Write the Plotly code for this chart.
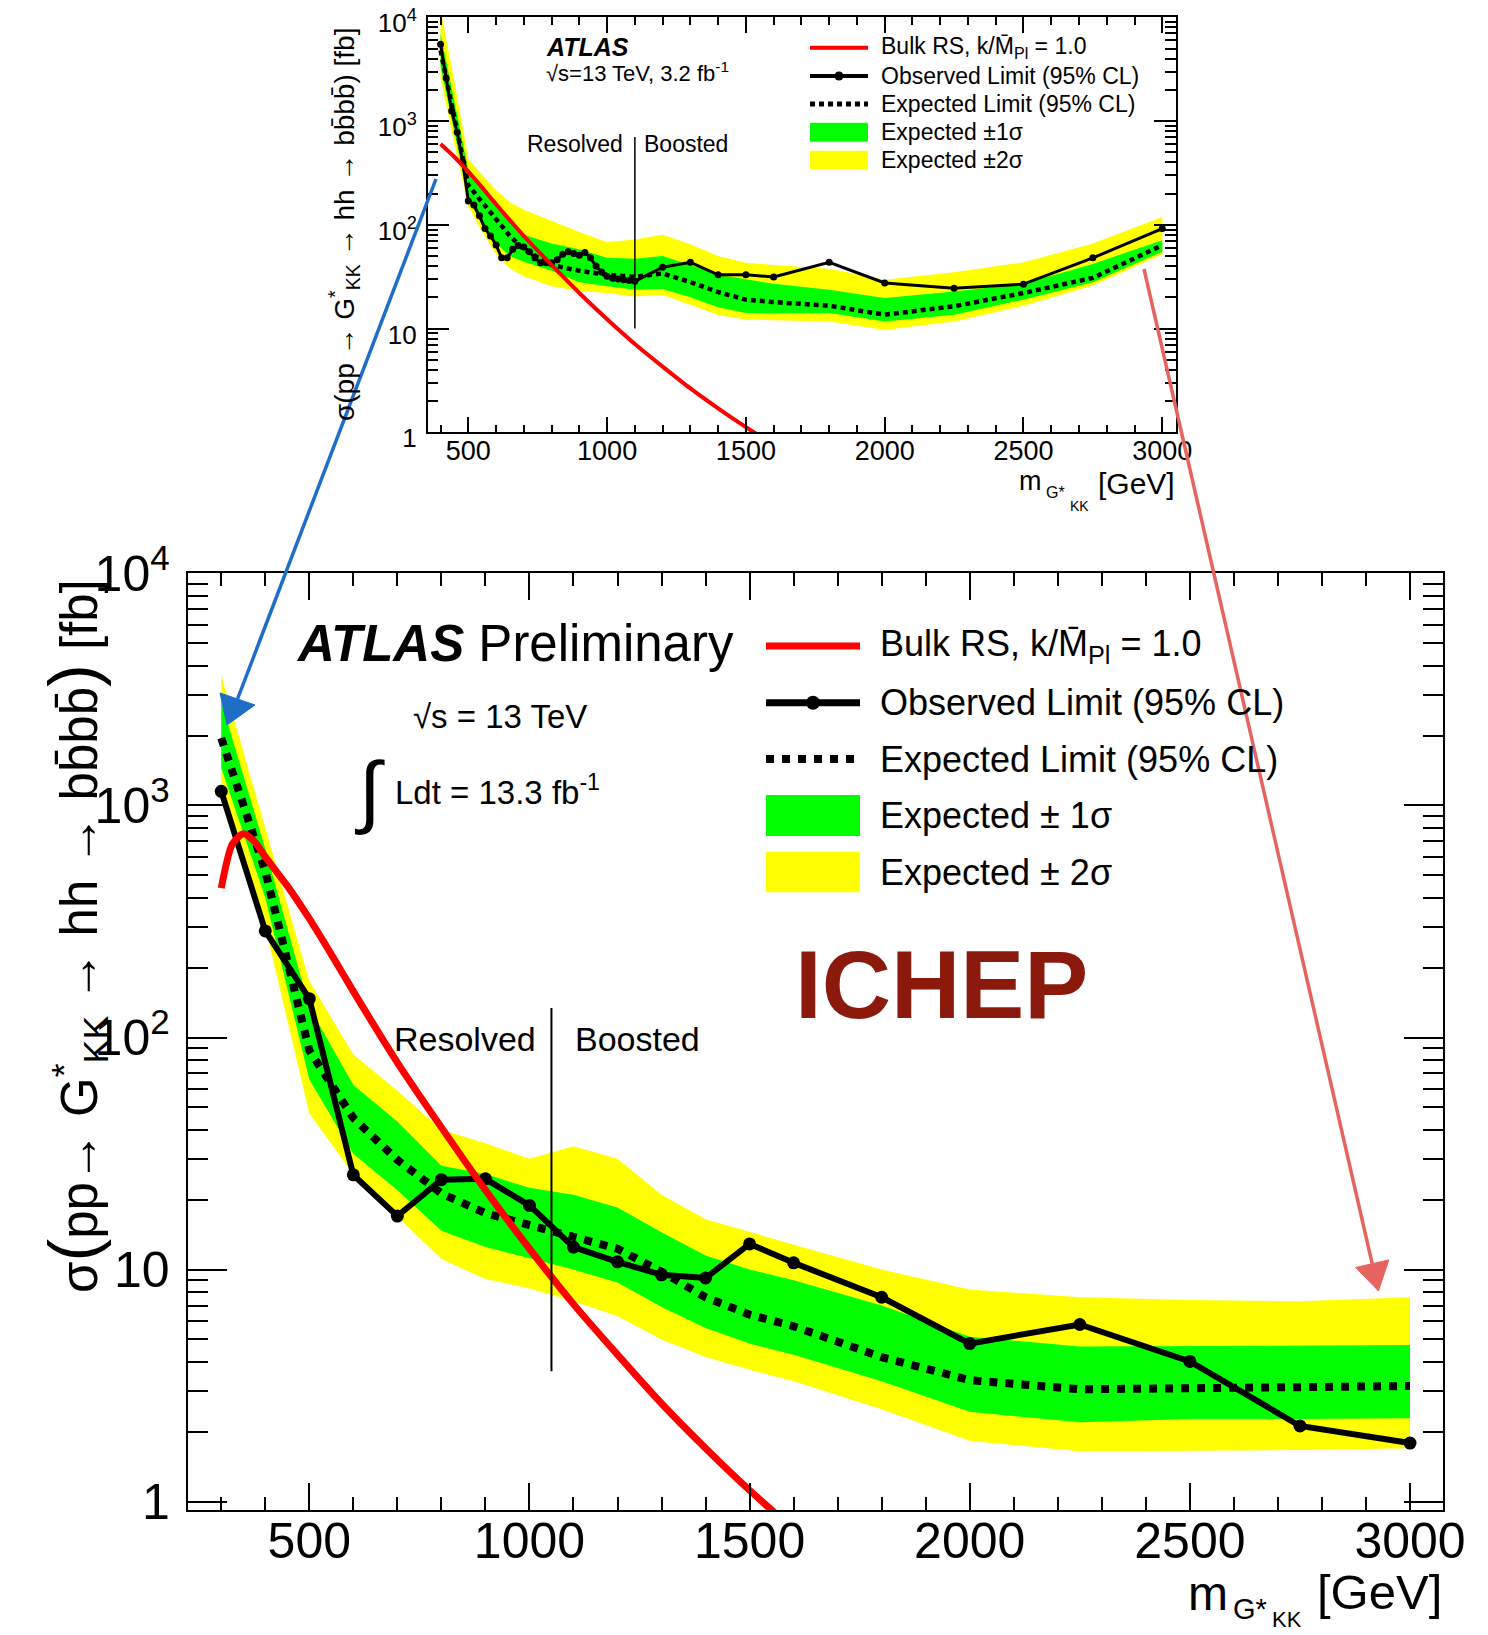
import plotly.graph_objects as go

W, H = 1488, 1635
FONT = "Liberation Sans, Arial, Helvetica, sans-serif"

# ---------------- main panel (13.3 fb-1) ----------------
mass = [300, 400, 500, 600, 700, 800, 900, 1000, 1100, 1200,
        1300, 1400, 1500, 1600, 1800, 2000, 2250, 2500, 2750, 3000]
obs_limit = [1150, 288, 147, 25.6, 17.0, 24.4, 24.6, 18.9, 12.5, 10.8,
             9.5, 9.2, 12.9, 10.7, 7.6, 4.8, 5.8, 4.02, 2.12, 1.79]
exp_limit = [1950, 520, 88, 45, 29.7, 21.3, 17.5, 15.5, 14.0, 12.3,
             9.8, 7.6, 6.4, 5.7, 4.2, 3.34, 3.05, 3.08, 3.08, 3.15]
exp_plus1 = [2800, 650, 135, 62.5, 43.5, 28, 25.8, 22.5, 21, 18.5,
             14.5, 11.5, 10, 9, 7.0, 5.14, 4.66, 4.69, 4.70, 4.73]
exp_minus1 = [1450, 400, 66, 31.6, 22, 14.7, 12.5, 11.2, 10, 8.8,
              6.9, 5.6, 4.8, 4.3, 3.3, 2.44, 2.2, 2.27, 2.27, 2.29]
exp_plus2 = [3650, 800, 175, 84.5, 59, 40, 35, 30, 34, 30,
             21, 16.5, 14.5, 12.8, 10, 8.2, 7.6, 7.4, 7.3, 7.6]
exp_minus2 = [1150, 300, 47, 25.8, 16.9, 11.1, 9.1, 8.3, 7.3, 6.3,
              5.0, 4.2, 3.7, 3.3, 2.5, 1.83, 1.65, 1.66, 1.67, 1.70]

# Bulk RS k/MPl = 1.0 prediction
theory_mass = [300, 325, 350, 375, 400, 450, 500, 550, 600, 700, 800, 900,
               1000, 1100, 1200, 1300, 1400, 1500, 1600]
theory_xs = [440, 680, 755, 700, 600, 450, 325, 228, 158, 78, 41, 22,
             12.3, 7.1, 4.3, 2.65, 1.7, 1.12, 0.76]

split_main = 1050
split_main_span = [3.65, 134]

# ---------------- inset (3.2 fb-1) ----------------
inset_obs_mass = [400, 420, 440, 460, 480, 500, 520, 540, 560, 580, 600, 620,
                  640, 660, 680, 700, 720, 740, 760, 780, 800, 820, 840, 860,
                  880, 900, 920, 940, 960, 980, 1000, 1020, 1040, 1060, 1080,
                  1100, 1200, 1300, 1400, 1500, 1600, 1800, 2000, 2250, 2500,
                  2750, 3000]
inset_obs = [5500, 2600, 1250, 780, 400, 170, 155, 122, 92, 78, 64, 48,
             48, 58, 63, 61, 55, 48, 43, 43, 43, 46, 52, 55,
             53, 51, 54, 48, 40, 35, 32, 30.5, 30, 29.5, 29,
             28.5, 39, 43.5, 33, 33, 31.4, 43.5, 27.5, 24.5, 26.8,
             48, 92]

inset_band_mass = [400, 450, 500, 550, 600, 650, 700, 800, 900, 1000, 1100,
                   1200, 1300, 1400, 1500, 1600, 1800, 2000, 2250, 2500, 2750, 3000]
inset_exp = [4800, 1100, 240, 165, 115, 78, 58, 41, 36, 33, 31.5,
             34, 28, 22.5, 19, 18, 16.6, 13.6, 16.4, 22, 30.8, 63.5]
inset_plus1 = [7000, 1600, 340, 230, 170, 110, 80, 66, 58, 48, 47,
               50, 41, 33, 29.6, 27, 23.7, 19.7, 22.8, 27, 42, 71]
inset_minus1 = [3400, 780, 176, 100, 66, 50, 44, 36, 28, 25.5, 23.7,
                24, 20, 16, 14.1, 14, 14.1, 11.7, 13.6, 19, 28, 55]
inset_plus2 = [12000, 2400, 430, 300, 215, 165, 140, 110, 85, 68, 72,
               80, 65, 50, 43, 41, 37.6, 29.6, 34.8, 43.5, 66, 119]
inset_minus2 = [2600, 600, 150, 85, 52, 38, 32, 25.5, 23, 22, 20.4,
                21, 17, 13.5, 12.2, 12, 11.7, 9.7, 11.7, 16.6, 26, 52]

split_inset = 1100
split_inset_span = [10, 700]

GREEN = "#00ff00"
YELLOW = "#ffff00"
RED = "#ff0000"


def px(x):
    return x / W


def py(y):
    return 1 - y / H


def band(xs, lo, hi, color, xa, ya):
    return go.Scatter(x=list(xs) + list(xs)[::-1], y=list(hi) + list(lo)[::-1],
                      fill="toself", fillcolor=color, mode="lines",
                      line=dict(width=0, color=color), hoverinfo="skip",
                      xaxis=xa, yaxis=ya)


fig = go.Figure()

# main panel traces
fig.add_trace(band(mass, exp_minus2, exp_plus2, YELLOW, "x", "y"))
fig.add_trace(band(mass, exp_minus1, exp_plus1, GREEN, "x", "y"))
fig.add_trace(go.Scatter(x=mass, y=exp_limit, mode="lines",
                         line=dict(color="black", width=8, dash="8px,8px"),
                         xaxis="x", yaxis="y"))
fig.add_trace(go.Scatter(x=mass, y=obs_limit, mode="lines+markers",
                         line=dict(color="black", width=6),
                         marker=dict(size=13, color="black"),
                         xaxis="x", yaxis="y"))
fig.add_trace(go.Scatter(x=theory_mass, y=theory_xs, mode="lines",
                         line=dict(color=RED, width=7, shape="spline", smoothing=0.7),
                         xaxis="x", yaxis="y"))
fig.add_trace(go.Scatter(x=[split_main, split_main], y=split_main_span, mode="lines",
                         line=dict(color="black", width=2), xaxis="x", yaxis="y"))

# inset traces
inset_theory_mass = [m for m in theory_mass if m >= 400]
inset_theory_xs = [s for m, s in zip(theory_mass, theory_xs) if m >= 400]
fig.add_trace(band(inset_band_mass, inset_minus2, inset_plus2, YELLOW, "x2", "y2"))
fig.add_trace(band(inset_band_mass, inset_minus1, inset_plus1, GREEN, "x2", "y2"))
fig.add_trace(go.Scatter(x=inset_band_mass, y=inset_exp, mode="lines",
                         line=dict(color="black", width=4.5, dash="5px,4px"),
                         xaxis="x2", yaxis="y2"))
fig.add_trace(go.Scatter(x=inset_obs_mass, y=inset_obs, mode="lines+markers",
                         line=dict(color="black", width=3),
                         marker=dict(size=7, color="black"),
                         xaxis="x2", yaxis="y2"))
fig.add_trace(go.Scatter(x=inset_theory_mass, y=inset_theory_xs, mode="lines",
                         line=dict(color=RED, width=4, shape="spline", smoothing=0.7),
                         xaxis="x2", yaxis="y2"))
fig.add_trace(go.Scatter(x=[split_inset, split_inset], y=split_inset_span, mode="lines",
                         line=dict(color="black", width=1.5), xaxis="x2", yaxis="y2"))

minor_log = [k * 10 ** e for e in range(0, 4) for k in range(2, 10)]
ytick_vals = [1, 10, 100, 1000, 10000]
ytick_text = ["1", "10", "10<sup>2</sup>", "10<sup>3</sup>", "10<sup>4</sup>"]


def xaxis_cfg(domain, rng, anchor, lw, major, minor, fsize, standoff):
    return dict(domain=domain, range=rng, anchor=anchor, showline=True,
                linecolor="black", linewidth=lw, mirror="allticks",
                ticks="inside", ticklen=major, tickwidth=lw, tickcolor="black",
                tick0=0, dtick=500, automargin=False, ticklabeloverflow="allow",
                minor=dict(ticks="inside", ticklen=minor, tickwidth=lw,
                           tickcolor="black", tick0=0, dtick=100, showgrid=False),
                showgrid=False, zeroline=False, ticklabelstandoff=standoff,
                tickfont=dict(family=FONT, size=fsize, color="black"))


def yaxis_cfg(domain, rng, anchor, lw, major, minor, fsize, standoff, shift):
    return dict(domain=domain, range=rng, anchor=anchor, type="log", showline=True,
                linecolor="black", linewidth=lw, mirror="allticks",
                ticks="inside", ticklen=major, tickwidth=lw, tickcolor="black",
                tickmode="array", tickvals=ytick_vals, ticktext=ytick_text,
                automargin=False, ticklabeloverflow="allow", ticklabelshift=shift,
                minor=dict(ticks="inside", ticklen=minor, tickwidth=lw,
                           tickcolor="black", tickmode="array",
                           tickvals=minor_log, showgrid=False),
                showgrid=False, zeroline=False, ticklabelstandoff=standoff,
                tickfont=dict(family=FONT, size=fsize, color="black"))


fig.update_layout(
    template="none",
    width=W, height=H, autosize=False,
    margin=dict(l=0, r=0, t=0, b=0, pad=0, autoexpand=False),
    paper_bgcolor="white", plot_bgcolor="white",
    font=dict(family=FONT, color="black"),
    showlegend=False,
    xaxis=xaxis_cfg([187.7 / W, 1443.3 / W], [223.8, 3075.6], "y", 2, 27, 13, 50, -14),
    yaxis=yaxis_cfg([1 - 1510 / H, 1 - 573.3 / H], [-0.0357, 4], "x", 2, 39, 20, 50, 6, 0),
    xaxis2=xaxis_cfg([427.7 / W, 1176 / W], [353.7, 3049.4], "y2", 1.5, 16, 8, 27, -6),
    yaxis2=yaxis_cfg([1 - 432.3 / H, 1 - 17.3 / H], [0, 4], "x2", 1.5, 22, 11, 26, 4, 6),
)

ann = []


def text(x, y, s, size, xanchor="left", yanchor="middle", color="black", angle=0):
    ann.append(dict(x=px(x), y=py(y), xref="paper", yref="paper", text=s,
                    showarrow=False, xanchor=xanchor, yanchor=yanchor,
                    textangle=angle, borderpad=0,
                    font=dict(family=FONT, size=size, color=color)))


# main panel labels
text(295, 643, "<b><i>ATLAS</i></b> Preliminary", 51)
text(500, 716, "√s = 13 TeV", 33, xanchor="center")
text(369, 790, "∫", 80, xanchor="center")
text(394, 790, "Ldt = 13.3 fb<sup>-1</sup>", 33)
text(537, 1039, "Resolved", 34, xanchor="right")
text(573.5, 1039, "Boosted", 34)
text(941, 984, "<b>ICHEP</b>", 96, xanchor="center", color="#8c1a0c")

legend_rows = [646, 702.7, 759, 815.4, 872]
legend_text = ["Bulk RS, k/M\u0304<sub>Pl</sub> = 1.0", "Observed Limit (95% CL)",
               "Expected Limit (95% CL)", "Expected ± 1σ", "Expected ± 2σ"]
for yy, s in zip(legend_rows, legend_text):
    text(879, yy, s, 36)

ytitle = ("σ<span style='font-size:68px'>(</span>pp→ G<sup>*</sup><sub>KK</sub> → hh → "
          "bb\u0304bb\u0304<span style='font-size:68px'>)</span> [fb]")
text(75, 936, ytitle, 51, xanchor="center", angle=-90)

text(1229, 1593, "m", 48, xanchor="right")
text(1232, 1609, "G*", 29)
text(1271, 1619, "KK", 22)
text(1443, 1592, "[GeV]", 49, xanchor="right")

# inset labels
text(545, 47, "<b><i>ATLAS</i></b>", 25)
text(545, 72.5, "√s=13 TeV, 3.2 fb<sup>-1</sup>", 22)
text(624, 144, "Resolved", 23, xanchor="right")
text(643, 144, "Boosted", 23)

inset_rows = [47.7, 76, 104, 132, 160]
inset_legend_text = ["Bulk RS, k/M\u0304<sub>Pl</sub> = 1.0", "Observed Limit (95% CL)",
                     "Expected Limit (95% CL)", "Expected ±1σ", "Expected ±2σ"]
for yy, s in zip(inset_rows, inset_legend_text):
    text(880, yy, s, 23)

inset_ytitle = "σ(pp → G<sup>*</sup><sub>KK</sub> → hh → bb\u0304bb\u0304) [fb]"
text(344, 225, inset_ytitle, 28, xanchor="center", angle=-90)

text(1043, 480.5, "m", 27, xanchor="right")
text(1045, 492.4, "G*", 16)
text(1069, 506.5, "KK", 14)
text(1176, 483.5, "[GeV]", 30, xanchor="right")

fig.update_layout(annotations=ann)

# legend keys and arrows
shapes = []


def pline(x0, y0, x1, y1, color, width, dash="solid"):
    shapes.append(dict(type="line", xref="paper", yref="paper",
                       x0=px(x0), y0=py(y0), x1=px(x1), y1=py(y1),
                       line=dict(color=color, width=width, dash=dash)))


def prect(x0, y0, x1, y1, color):
    shapes.append(dict(type="rect", xref="paper", yref="paper",
                       x0=px(x0), y0=py(y0), x1=px(x1), y1=py(y1),
                       fillcolor=color, line=dict(width=0)))


def pcircle(cx, cy, r, color):
    shapes.append(dict(type="circle", xref="paper", yref="paper",
                       x0=px(cx - r), y0=py(cy + r), x1=px(cx + r), y1=py(cy - r),
                       fillcolor=color, line=dict(width=0)))


def ptri(pts, color):
    d = "M " + " L ".join(f"{px(a):.6f},{py(b):.6f}" for a, b in pts) + " Z"
    shapes.append(dict(type="path", xref="paper", yref="paper", path=d,
                       fillcolor=color, line=dict(color=color, width=1)))


# main legend keys
pline(766, 646, 860, 646, RED, 7)
pline(766, 702.7, 860, 702.7, "black", 7)
pcircle(813, 702.7, 7, "black")
pline(766, 759, 860, 759, "black", 8, "8px,8px")
prect(766, 795, 860, 836, GREEN)
prect(766, 851.7, 860, 892.3, YELLOW)

# inset legend keys
pline(810, 47.7, 868, 47.7, RED, 4)
pline(810, 76, 868, 76, "black", 4)
pcircle(839, 76, 4.5, "black")
pline(810, 104, 868, 104, "black", 5, "5px,4px")
prect(810, 122.7, 868, 141.7, GREEN)
prect(810, 150.7, 868, 169.3, YELLOW)

# zoom arrows linking inset and main panel
BLUE = "#1e6ec8"
SALMON = "#e6645f"
pline(436, 179, 237.5, 699, BLUE, 3.5)
ptri([(220, 693), (255, 705), (227, 725)], BLUE)
pline(1144, 269, 1372.2, 1263.7, SALMON, 3.5)
ptri([(1388.8, 1259.9), (1355.6, 1267.5), (1378.5, 1291)], SALMON)

fig.update_layout(shapes=shapes)

fig.write_html("out.html")
